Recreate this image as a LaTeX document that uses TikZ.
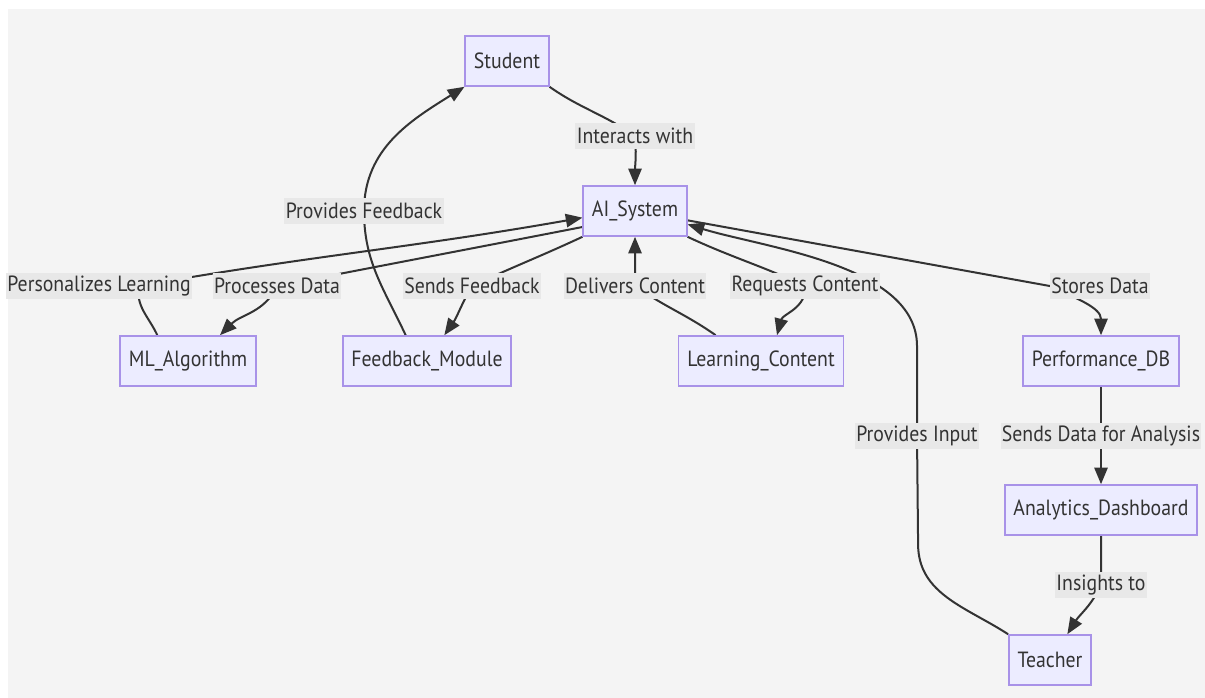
\documentclass[tikz,border=0pt]{standalone}
\usepackage{fontspec}
\setmainfont[FakeStretch=0.9]{PT Sans}
\usepackage{xcolor}
\usetikzlibrary{arrows.meta,backgrounds}

\definecolor{pagebg}{HTML}{F4F4F4}
\definecolor{boxfill}{HTML}{ECECFF}
\definecolor{boxline}{HTML}{A892E8}
\definecolor{lblfill}{HTML}{E8E8E8}
\definecolor{ink}{HTML}{333333}

\tikzset{
  box/.style={draw=boxline,fill=boxfill,line width=1.2pt,text=ink,
    minimum height=37.5pt,inner xsep=6.5pt,font=\fontsize{16.5}{19}\selectfont},
  lbl/.style={fill=lblfill,text=ink,inner xsep=1pt,inner ysep=0pt,
    minimum height=20pt,font=\fontsize{16.5}{19}\selectfont},
  link/.style={draw=ink,line width=1.5pt,-{Triangle[length=12.5pt,width=10pt]}},
}

\begin{document}
\begin{tikzpicture}[x=0.75pt,y=-0.75pt]
\useasboundingbox (0,0) rectangle (1205,698);

\node[box] (student) at (507,61) {Student};
\node[box] (ai) at (635,211) {AI\_System};
\node[box] (mlalg) at (188,361) {ML\_Algorithm};
\node[box] (fbmod) at (427,361) {Feedback\_Module};
\node[box] (lcontent) at (761,361) {Learning\_Content};
\node[box] (pdb) at (1101,361) {Performance\_DB};
\node[box] (ad) at (1101,510) {Analytics\_Dashboard};
\node[box] (teacher) at (1050,660) {Teacher};

\node[lbl] (lInter) at (635,136) {Interacts with};
\node[lbl] (lProvFb) at (364,211) {Provides Feedback};
\node[lbl] (lPers) at (99,286) {Personalizes Learning};
\node[lbl] (lProc) at (277,286) {Processes Data};
\node[lbl] (lSendFb) at (472,286) {Sends Feedback};
\node[lbl] (lDeliv) at (635,286) {Delivers Content};
\node[lbl] (lReq) at (805,286) {Requests Content};
\node[lbl] (lStore) at (1100,286) {Stores Data};
\node[lbl] (lProvIn) at (917,436) {Provides Input};
\node[lbl] (lSendData) at (1101,436) {Sends Data for Analysis};
\node[lbl] (lInsight) at (1101,585) {Insights to};

\begin{scope}[on background layer]
\fill[white] (0,0) rectangle (1205,698);
\fill[pagebg] (8,9) rectangle (1205,698);

\draw[link] (student.south east) to[out=-35,in=145] (lInter.center) to[out=-85,in=90] (ai.north);
\draw[link] ([xshift=-16pt]fbmod.north) to[out=115,in=-90] (lProvFb.center) to[out=90,in=-148] (student.south west);
\draw[link] ([xshift=-23pt]mlalg.north) to[out=115,in=-100] ([xshift=30pt]lPers.center) to[out=10,in=190] ([yshift=-5pt]ai.west);
\draw[link] ([yshift=-12pt]ai.west) to[out=191,in=11] (lProc.center) to[out=-115,in=45] ([xshift=24pt]mlalg.north);
\draw[link] (ai.south west) to[out=205,in=25] (lSendFb.center) to[out=-120,in=55] ([xshift=13pt]fbmod.north);
\draw[link] ([xshift=-34pt]lcontent.north) to[out=145,in=-35] (lDeliv.center) to[out=90,in=-90] (ai.south);
\draw[link] (ai.south east) to[out=-25,in=155] (lReq.center) to[out=-85,in=75] ([xshift=12pt]lcontent.north);
\draw[link] (teacher.north west) to[out=147,in=-90] ++(-90,-90) -- (lProvIn.center) -- ++(0,-90) to[out=90,in=-17,looseness=0.8] ([yshift=-10pt]ai.east);
\draw[link] ([yshift=-7pt]ai.east) -- (lStore.west) to[out=-25,in=90] (pdb.north);
\draw[link] (pdb) -- (ad);
\draw[link] (ad.south) -- (lInsight.center) to[out=-115,in=58] ([xshift=13pt]teacher.north);
\end{scope}
\end{tikzpicture}
\end{document}
